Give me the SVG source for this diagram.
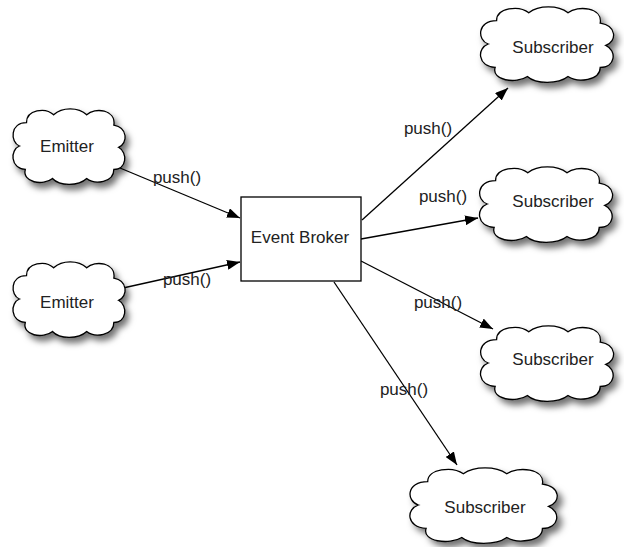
<svg xmlns="http://www.w3.org/2000/svg" width="624" height="547" viewBox="0 0 624 547">
<style>
.cloud{fill:#fff;stroke:#000;stroke-width:1.3;filter:url(#sh)}
.lbl{font-family:"Liberation Sans",Arial,sans-serif;font-size:17px;fill:#222;text-anchor:middle}
.edge{stroke:#000;stroke-width:1.3;fill:none;marker-end:url(#ah)}
</style>
<defs>
<filter id="sh" x="-20%" y="-20%" width="150%" height="160%">
<feDropShadow dx="3" dy="4" stdDeviation="2.5" flood-color="#000" flood-opacity="0.55"/>
</filter>
<marker id="ah" markerUnits="userSpaceOnUse" markerWidth="14" markerHeight="10" refX="13" refY="5" orient="auto">
<path d="M0,0 L13,5 L0,10 Z" fill="#000"/>
</marker>
<path id="cl" vector-effect="non-scaling-stroke" d="M8,30 C0,27 0,12 14,12 C14,2 30,0 37,6 C44,0 58,0 65,6 C72,0 90,2 88,14 C100,16 100,28 92,31 C100,35 99,48 88,48 C88,58 72,60 65,55 C58,61 42,61 36,55 C28,61 10,58 13,48 C0,47 0,33 8,30 Z"/>
</defs>
<rect width="624" height="547" fill="#fff"/>
<g id="connectors">
<line class="edge" x1="120" y1="168" x2="240" y2="218"/>
<line class="edge" x1="123" y1="288" x2="240" y2="262"/>
<line class="edge" x1="362" y1="220" x2="508" y2="88"/>
<line class="edge" x1="361" y1="239" x2="478" y2="218"/>
<line class="edge" x1="361" y1="261" x2="493" y2="329"/>
<line class="edge" x1="334" y1="282" x2="457" y2="465"/>
<text class="lbl" x="177" y="183">push()</text>
<text class="lbl" x="187" y="285">push()</text>
<text class="lbl" x="428" y="134">push()</text>
<text class="lbl" x="443" y="202">push()</text>
<text class="lbl" x="438" y="308">push()</text>
<text class="lbl" x="404" y="395">push()</text>
</g>
<g id="emitter1"><use href="#cl" class="cloud" transform="translate(10,107) scale(1.18,1.3)"/><text class="lbl" x="67" y="152">Emitter</text></g>
<g id="emitter2"><use href="#cl" class="cloud" transform="translate(10,260) scale(1.18,1.3)"/><text class="lbl" x="67" y="308">Emitter</text></g>
<g id="broker"><rect x="241" y="197" width="120" height="84" fill="#fff" stroke="#000" stroke-width="1.3"/><text class="lbl" x="300" y="243">Event Broker</text></g>
<g id="subscriber1"><use href="#cl" class="cloud" transform="translate(477,5) scale(1.4,1.3)"/><text class="lbl" x="553" y="53">Subscriber</text></g>
<g id="subscriber2"><use href="#cl" class="cloud" transform="translate(476,165) scale(1.4,1.3)"/><text class="lbl" x="553" y="207">Subscriber</text></g>
<g id="subscriber3"><use href="#cl" class="cloud" transform="translate(477,324) scale(1.4,1.3)"/><text class="lbl" x="553" y="365">Subscriber</text></g>
<g id="subscriber4"><use href="#cl" class="cloud" transform="translate(406,466) scale(1.55,1.3)"/><text class="lbl" x="485" y="513">Subscriber</text></g>
</svg>
